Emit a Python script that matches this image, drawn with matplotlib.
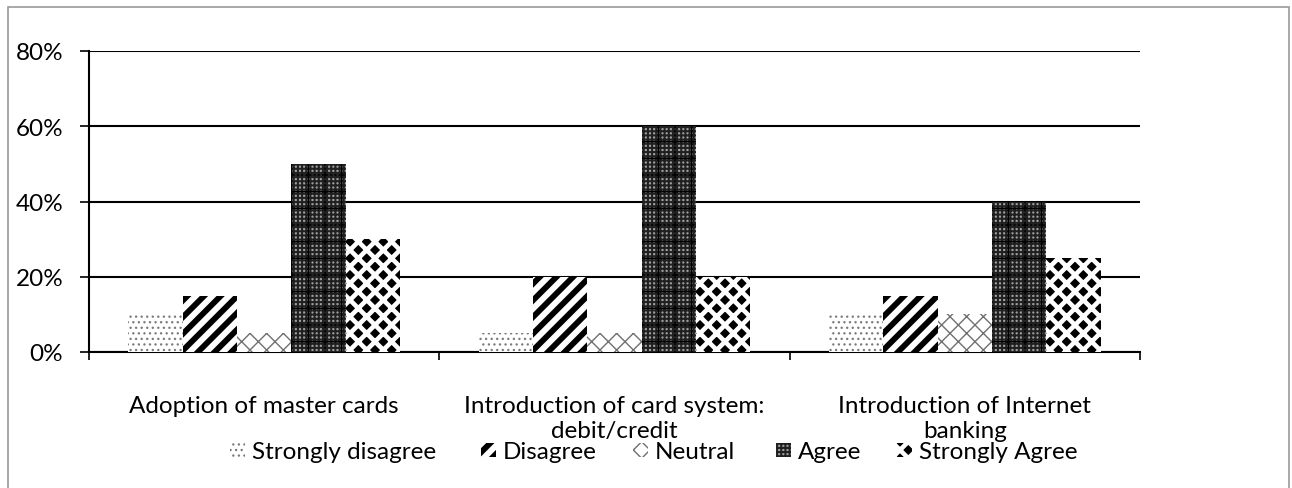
import matplotlib
matplotlib.use("Agg")
import matplotlib.pyplot as plt
from matplotlib.patches import Rectangle, Patch
import numpy as np

categories = ["Adoption of master cards",
              "Introduction of card system:\ndebit/credit",
              "Introduction of Internet\nbanking"]
series_names = ["Strongly disagree", "Disagree", "Neutral", "Agree", "Strongly Agree"]
strongly_disagree = [10, 5, 10]
disagree = [15, 20, 15]
neutral = [5, 5, 10]
agree = [50, 60, 40]
strongly_agree = [30, 20, 25]
series_values = [strongly_disagree, disagree, neutral, agree, strongly_agree]
y_ticks = [0, 20, 40, 60, 80]
y_tick_labels = ["0%", "20%", "40%", "60%", "80%"]

# style per series: facecolor, hatch color, hatch, hatch linewidth
styles = [
    dict(face="white", hcol="#7a7a7a", hatch="...", hlw=0.9),
    dict(face="white", hcol="black", hatch="//", hlw=4.2),
    dict(face="white", hcol="#707070", hatch="xx", hlw=1.0),
    dict(face="#a0a0a0", hcol="#202020", hatch="++++", hlw=1.45),
    dict(face="black", hcol="white", hatch="xx", hlw=3.3),
]

plt.rcParams['font.family'] = ['Lato', 'DejaVu Sans']
FS = 17.5
W, H = 1292, 489
fig = plt.figure(figsize=(W / 100, H / 100), dpi=100)
ax = fig.add_axes([89 / W, 1 - 353 / H, (1140 - 89) / W, (353 - 52) / H])

x = np.arange(len(categories))
bw = 0.155


def make_patch(st, **kw):
    return dict(facecolor=st["face"], edgecolor=st["hcol"], linewidth=0, hatch=st["hatch"], **kw)


def set_hlw(artists, lw):
    for a in artists:
        if hasattr(a, "set_hatch_linewidth"):
            a.set_hatch_linewidth(lw)


for k, (vals, st) in enumerate(zip(series_values, styles)):
    with plt.rc_context({'hatch.linewidth': st["hlw"]}):
        bars = ax.bar(x + (k - 2) * bw, vals, width=bw, zorder=3, **make_patch(st))
        set_hlw(bars, st["hlw"])
    if k == 3:
        # coarser black grid overlaid on the Agree pattern
        with plt.rc_context({'hatch.linewidth': 1.1}):
            over = ax.bar(x + (k - 2) * bw, vals, width=bw, zorder=4,
                          facecolor="none", edgecolor="black", linewidth=0, hatch="+")
            set_hlw(over, 1.1)

ax.set_xlim(-0.5, 2.5)
ax.set_ylim(0, 80)
ax.set_yticks(y_ticks)
ax.set_yticklabels(y_tick_labels, fontsize=FS)
ax.yaxis.grid(True, color="black", linewidth=1.5, zorder=0)
ax.set_axisbelow(True)
for s in ["top", "right"]:
    ax.spines[s].set_visible(False)
for s in ["left", "bottom"]:
    ax.spines[s].set_linewidth(1.5)
ax.tick_params(axis="y", length=6.5, width=1.2, pad=12)
ax.set_xticks(x)
ax.set_xticklabels(categories, fontsize=FS, linespacing=1.25)
ax.tick_params(axis="x", which="major", length=0, pad=31)
ax.set_xticks([-0.5, 0.5, 1.5, 2.5], minor=True)
ax.tick_params(axis="x", which="minor", length=6, width=1.2)

# figure border
fig.patches.append(Rectangle((8 / W, -0.1), (1289 - 8) / W, 1.1 - 8 / H,
                             transform=fig.transFigure, fill=False,
                             edgecolor="#9a9a9a", linewidth=1.2, zorder=0))

# legend entries placed individually
leg_x = [230, 481, 633, 776, 897]
for k, (name, st) in enumerate(zip(series_names, styles)):
    with plt.rc_context({'hatch.linewidth': st["hlw"]}):
        h = Patch(label=name, **make_patch(st))
        set_hlw([h], st["hlw"])
        fig.legend(handles=[h], loc="center left",
                   bbox_to_anchor=(leg_x[k] / W, 1 - 453 / H),
                   frameon=False, fontsize=FS, borderpad=0, borderaxespad=0,
                   handlelength=0.6, handleheight=0.55, handletextpad=0.3)

fig.savefig("out.png", dpi=100)
